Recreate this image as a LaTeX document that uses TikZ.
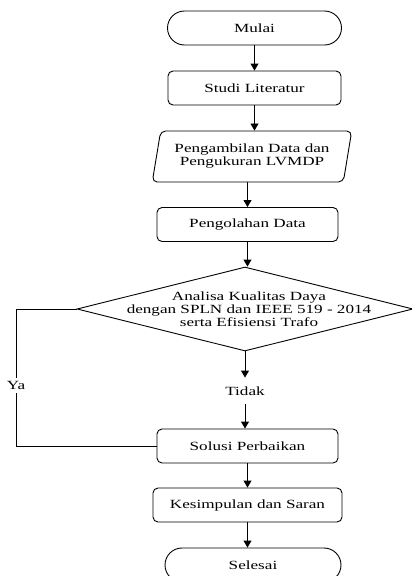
\documentclass[tikz,border=0pt]{standalone}
\usepackage{fontspec}
\setmainfont{Liberation Serif}[FakeStretch=1.37]
\usetikzlibrary{shapes.geometric,arrows.meta}
\begin{document}
\begin{tikzpicture}[x=1pt,y=-1pt,
  font=\fontsize{12.5}{13}\selectfont,
  line width=0.9pt,
  box/.style={draw, rounded corners=5pt, minimum width=#1, minimum height=34pt, inner sep=0pt, align=center},
  term/.style={draw, rounded corners=17pt, minimum width=#1, minimum height=34pt, inner sep=0pt},
  para/.style={draw, trapezium, trapezium left angle=73.6, trapezium right angle=106.4,
    trapezium stretches=true, minimum width=200pt, minimum height=51pt,
    rounded corners=5pt, inner sep=0pt, align=center},
  dec/.style={draw, diamond, minimum width=336pt, minimum height=84pt, inner sep=0pt},
  lbl/.style={inner sep=0pt, align=center},
  arr/.style={-{Triangle[width=8pt,length=7pt]}},
  ]
\useasboundingbox (0,0) rectangle (412,576);
\fill[white] (0,0) rectangle (412,576);

\node[term=174pt] (mulai) at (254.5,28) {Mulai};
\node[box=173pt] (studi) at (254.5,88) {Studi Literatur};
\node[para] (ambil) at (252,156.5) {Pengambilan Data dan\\Pengukuran LVMDP};
\node[box=181pt] (olah) at (247.5,224.5) {Pengolahan Data};
\node[dec] (analisa) at (245,309) {};
\node[lbl] (analisatext) at (249,309) {Analisa Kualitas Daya\\dengan SPLN dan IEEE 519 - 2014\\serta Efisiensi Trafo};
\node[lbl, minimum height=26pt] (tidak) at (245,391) {Tidak};
\node[box=181pt] (solusi) at (247.5,446) {Solusi Perbaikan};
\node[box=189pt] (simpul) at (247.5,505) {Kesimpulan dan Saran};
\node[term=176pt] (selesai) at (253,565) {Selesai};
\node[lbl, minimum height=15pt] (ya) at (16,385.5) {Ya};

\draw[arr] (mulai.south) -- (studi.north);
\draw[arr] (studi.south) -- (studi.south |- ambil.north);
\draw[arr] (olah.north |- ambil.south) -- (olah.north);
\draw[arr] (olah.south) -- (olah.south |- analisa.north);
\draw[arr] (analisa.south) -- (tidak.north);
\draw[arr] (tidak.south) -- (tidak.south |- solusi.north);
\draw[arr] (solusi.south) -- (simpul.north);
\draw[arr] (simpul.south) -- (simpul.south |- selesai.north);
\draw (analisa.west) -| (ya.north);
\draw (ya.south) |- (solusi.west);
\end{tikzpicture}
\end{document}
